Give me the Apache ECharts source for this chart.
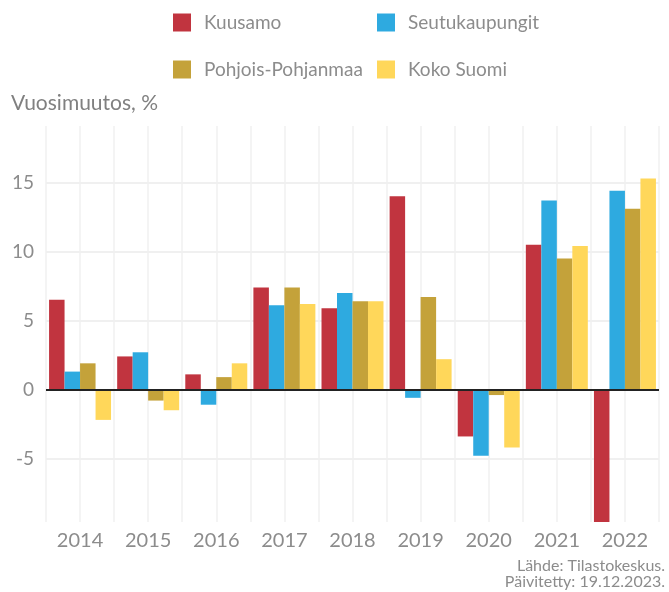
<!DOCTYPE html>
<html>
<head>
<meta charset="utf-8">
<script src="https://cdn.jsdelivr.net/npm/echarts@6/dist/echarts.min.js"></script>
<style>
  html, body { margin: 0; padding: 0; background: #fff; }
  #chart { width: 669px; height: 592px; }
</style>
</head>
<body>
<div id="chart"></div>
<script>
// vuodet
var years = ["2014", "2015", "2016", "2017", "2018", "2019", "2020", "2021", "2022"];

// vuosimuutos, %
var kuusamo = [6.5, 2.4, 1.1, 7.4, 5.9, 14.0, -3.4, 10.5, -9.6];
var seutukaupungit = [1.3, 2.7, -1.1, 6.1, 7.0, -0.6, -4.8, 13.7, 14.4];
var pohjoisPohjanmaa = [1.9, -0.8, 0.9, 7.4, 6.4, 6.7, -0.4, 9.5, 13.1];
var kokoSuomi = [-2.2, -1.5, 1.9, 6.2, 6.4, 2.2, -4.2, 10.4, 15.3];

var seriesNames = ["Kuusamo", "Seutukaupungit", "Pohjois-Pohjanmaa", "Koko Suomi"];
var seriesData = [kuusamo, seutukaupungit, pohjoisPohjanmaa, kokoSuomi];
var colors = ["#c1343f", "#2eaae0", "#c4a23a", "#ffd75a"];

var yMin = -9.6;
var yMax = 19.1;

var font = "Lato";
var textColor = "#8c8c8c";
var gridColor = "#f0f0f0";

function legendItem(names, top) {
  return {
    data: names,
    left: 173,
    top: top,
    padding: 0,
    itemWidth: 18,
    itemHeight: 18,
    itemGap: 13,
    icon: "rect",
    selectedMode: false,
    textStyle: {
      fontFamily: font,
      fontSize: 19,
      color: textColor,
      width: 160,
      lineHeight: 18,
      overflow: "none",
      padding: [0, 0, 0, 8]
    }
  };
}

var series = [];
for (var i = 0; i < seriesNames.length; i++) {
  var s = {
    name: seriesNames[i],
    type: "bar",
    data: seriesData[i],
    barGap: "0%",
    barCategoryGap: "9%",
    itemStyle: { color: colors[i] }
  };
  if (i == 0) {
    // nollaviiva
    s.markLine = {
      silent: true,
      symbol: "none",
      label: { show: false },
      lineStyle: { color: "#222", width: 2, type: "solid" },
      data: [{ yAxis: 0 }],
      z: 10
    };
  }
  series.push(s);
}

var chart = echarts.init(document.getElementById("chart"));
chart.setOption({
  animation: false,
  color: colors,
  title: {
    text: "Vuosimuutos, %",
    left: 6,
    top: 88,
    textStyle: {
      fontFamily: font,
      fontSize: 21,
      fontWeight: "normal",
      color: "#808080"
    }
  },
  legend: [
    legendItem(["Kuusamo", "Seutukaupungit"], 13),
    legendItem(["Pohjois-Pohjanmaa", "Koko Suomi"], 60)
  ],
  grid: {
    left: 46,
    right: 10,
    top: 126,
    bottom: 70
  },
  xAxis: [
    {
      type: "category",
      data: years,
      axisLine: { show: false },
      axisTick: { show: false },
      splitLine: { show: false },
      axisLabel: {
        fontFamily: font,
        fontSize: 20,
        color: textColor,
        margin: 9
      }
    },
    {
      // pystyviivat luokkien rajoille ja keskelle
      type: "value",
      min: 0,
      max: 18,
      interval: 1,
      position: "top",
      axisLine: { show: false },
      axisTick: { show: false },
      axisLabel: { show: false },
      splitLine: { show: true, lineStyle: { color: gridColor, width: 1.5 } }
    }
  ],
  yAxis: {
    type: "value",
    min: yMin,
    max: yMax,
    axisLine: { show: false },
    axisTick: { show: false },
    axisLabel: {
      fontFamily: font,
      fontSize: 19,
      color: textColor,
      margin: 12,
      showMinLabel: false,
      showMaxLabel: false
    },
    splitLine: {
      show: true,
      showMinLine: false,
      showMaxLine: false,
      lineStyle: { color: gridColor, width: 2 }
    }
  },
  graphic: [
    {
      type: "text",
      right: 4,
      top: 558,
      style: {
        text: "Lähde: Tilastokeskus.\nPäivitetty: 19.12.2023.",
        font: "16px Lato",
        fill: textColor,
        textAlign: "right",
        lineHeight: 16
      }
    }
  ],
  series: series
});
</script>
</body>
</html>
